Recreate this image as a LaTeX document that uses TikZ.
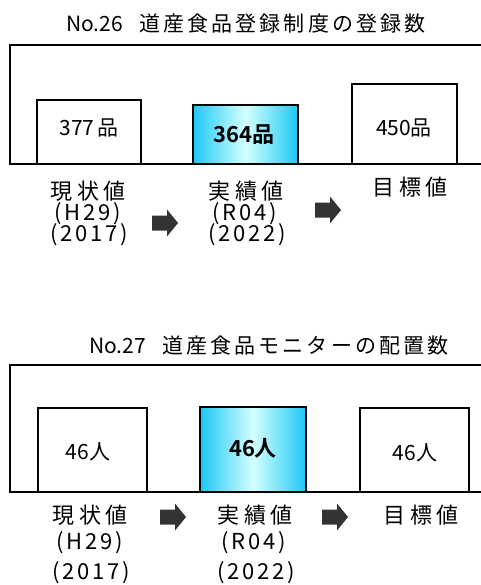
\documentclass[tikz,border=0pt]{standalone}
\usepackage{fontspec}
\setmainfont{Noto Sans CJK JP}
\newfontfamily\ttlcj[LetterSpace=15]{Noto Sans CJK JP}
\newfontfamily\lblcj[LetterSpace=22]{Noto Sans CJK JP}
\newfontfamily\lbllat[LetterSpace=13]{Noto Sans CJK JP}
\newfontfamily\numb{Noto Sans CJK JP Bold}
\definecolor{cyanedge}{HTML}{1CC8F4}
\definecolor{cyanmid}{HTML}{D4FFFF}
\definecolor{arrowgray}{HTML}{333333}
\tikzset{
  frameline/.style={line width=2pt, black},
  valbox/.style={draw=black, line width=2pt, fill=white},
  hibox/.style={draw=black, line width=2pt, left color=cyanedge, right color=cyanedge, middle color=cyanmid},
  titletext/.style={font=\fontsize{21}{24}\selectfont, inner sep=0pt, anchor=west},
  labeltext/.style={font=\lbllat\fontsize{22}{24}\selectfont, inner sep=0pt, anchor=base west, text height=14pt, text depth=2pt},
  valtext/.style={font=\fontsize{21}{22}\selectfont, inner sep=0pt},
  valbold/.style={font=\numb\fontsize{22}{22}\selectfont, inner sep=0pt},
  pics/blockarrow/.style={code={
    \fill[arrowgray] (0,-7.5) -- (15,-7.5) -- (15,-13.5) -- (26,0) -- (15,13.5) -- (15,7.5) -- (0,7.5) -- cycle;
  }}
}
\newcommand{\tcj}[1]{{\ttlcj #1}}
\newcommand{\lcj}[1]{{\lblcj #1}}
\begin{document}
\begin{tikzpicture}[x=1pt,y=-1pt]
\useasboundingbox (0,0) rectangle (480,585);
% ---------- No.26 ----------
\node[titletext] (t1) at (66,24) {No.26\hspace{16pt}\tcj{道産食品登録制度の登録数}};
\coordinate (f1a) at (482,45);
\coordinate (f1b) at (10,45);
\coordinate (f1c) at (10,164);
\coordinate (f1d) at (482,164);
\draw[frameline] (f1a) -- (f1b) -- (f1c) -- (f1d);
\draw[valbox] (37,164) rectangle (141,100);
\draw[hibox] (193,164) rectangle (298,105);
\draw[valbox] (352,164) rectangle (457,84);
\draw[frameline] (f1c) -- (f1d);
\node[valtext] (v1a) at (89,128) {377\hspace{3pt}品};
\node[valbold] (v1b) at (244,135) {364品};
\node[valtext] (v1c) at (404,128) {450品};
\node[labeltext] (l1a) at (50,200) {\lcj{現状値}};
\node[labeltext] (l1b) at (54,220.5) {(H29)};
\node[labeltext] (l1c) at (50,241.5) {(2017)};
\node[labeltext] (l1d) at (208,200) {\lcj{実績値}};
\node[labeltext] (l1e) at (212,220.5) {(R04)};
\node[labeltext] (l1f) at (208,241.5) {(2022)};
\node[labeltext] (l1g) at (372,195.5) {\lcj{目標値}};
\pic at (152,223) {blockarrow};
\pic at (315,210) {blockarrow};
% ---------- No.27 ----------
\node[titletext] (t2) at (89,346) {No.27\hspace{16pt}\tcj{道産食品モニターの配置数}};
\coordinate (f2a) at (482,365);
\coordinate (f2b) at (10,365);
\coordinate (f2c) at (10,492);
\coordinate (f2d) at (482,492);
\draw[frameline] (f2a) -- (f2b) -- (f2c) -- (f2d);
\draw[valbox] (38,492) rectangle (147,408);
\draw[hibox] (200,492) rectangle (306,407);
\draw[valbox] (360,492) rectangle (469,408);
\draw[frameline] (f2c) -- (f2d);
\node[valtext] (v2a) at (88,452) {46人};
\node[valbold] (v2b) at (253,448) {46人};
\node[valtext] (v2c) at (415,453) {46人};
\node[labeltext] (l2a) at (52,523.5) {\lcj{現状値}};
\node[labeltext] (l2b) at (56,549.5) {(H29)};
\node[labeltext] (l2c) at (52,579.5) {(2017)};
\node[labeltext] (l2d) at (217,523.5) {\lcj{実績値}};
\node[labeltext] (l2e) at (221,549.5) {(R04)};
\node[labeltext] (l2f) at (217,579.5) {(2022)};
\node[labeltext] (l2g) at (383,523.5) {\lcj{目標値}};
\pic at (160,517) {blockarrow};
\pic at (322,517) {blockarrow};
\end{tikzpicture}
\end{document}
